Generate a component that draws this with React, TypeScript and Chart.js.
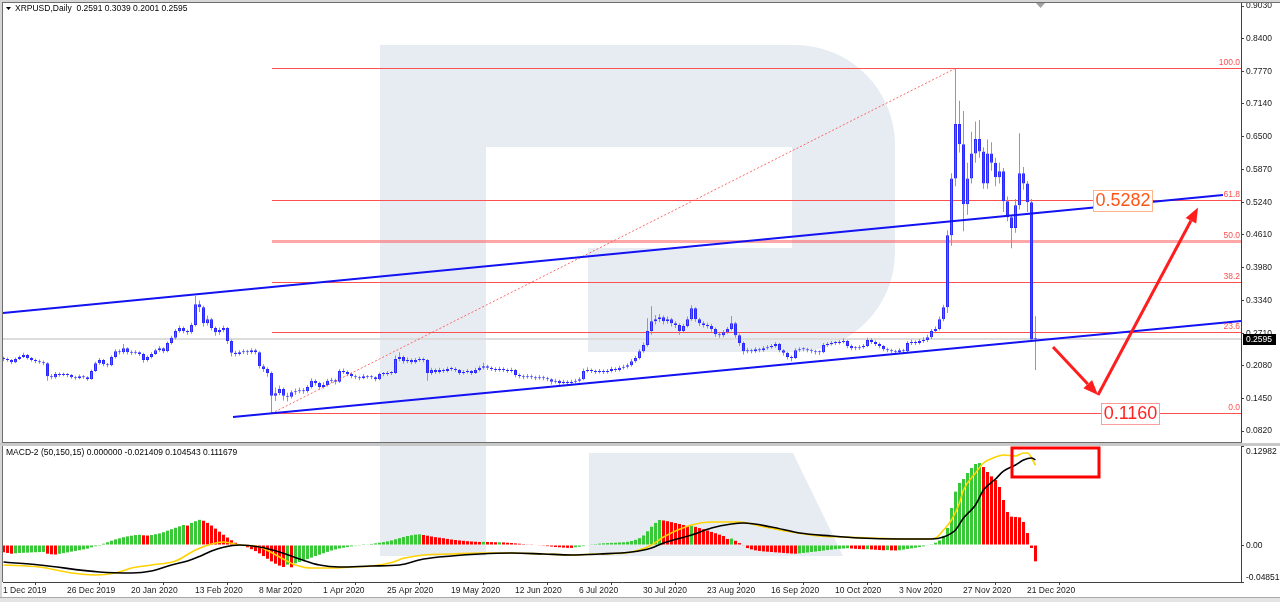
import React, { useEffect, useRef } from "react";
import { Chart, registerables } from "chart.js";

Chart.register(...registerables);

const FONT = "'Liberation Sans', Arial, Helvetica, sans-serif";
const SMALL = 8.5;
Chart.defaults.font.family = FONT;

// ---------------- texts ----------------
const symbolTitle = "XRPUSD,Daily  0.2591 0.3039 0.2001 0.2595";
const macdTitle = "MACD-2 (50,150,15) 0.000000 -0.021409 0.104543 0.111679";

// ---------------- axes ----------------
const xTickLabels = ["1 Dec 2019", "26 Dec 2019", "20 Jan 2020", "13 Feb 2020", "8 Mar 2020", "1 Apr 2020", "25 Apr 2020", "19 May 2020", "12 Jun 2020", "6 Jul 2020", "30 Jul 2020", "23 Aug 2020", "16 Sep 2020", "10 Oct 2020", "3 Nov 2020", "27 Nov 2020", "21 Dec 2020"];
const xTickBars = [0, 16, 32, 48, 64, 80, 96, 112, 128, 144, 160, 176, 192, 208, 224, 240, 256];
const priceTicks = [0.903, 0.84, 0.777, 0.714, 0.65, 0.587, 0.524, 0.461, 0.398, 0.334, 0.271, 0.208, 0.145, 0.082];
const macdTickValues = [0.12982, 0, -0.048513];
const macdTickLabels = ["0.12982", "0.00", "-0.048513"];

// ---------------- daily candles ----------------
const openP = [
  0.222, 0.221, 0.219, 0.215, 0.221, 0.225, 0.229, 0.223, 0.219, 0.217,
  0.215, 0.213, 0.188, 0.186, 0.192, 0.190, 0.192, 0.190, 0.186, 0.184,
  0.188, 0.186, 0.182, 0.198, 0.213, 0.219, 0.211, 0.209, 0.225, 0.236,
  0.234, 0.242, 0.234, 0.233, 0.234, 0.231, 0.219, 0.225, 0.231, 0.238,
  0.242, 0.236, 0.252, 0.262, 0.275, 0.281, 0.275, 0.273, 0.287, 0.327,
  0.321, 0.290, 0.298, 0.281, 0.273, 0.277, 0.281, 0.256, 0.233, 0.231,
  0.234, 0.236, 0.234, 0.238, 0.234, 0.207, 0.202, 0.194, 0.150, 0.155,
  0.163, 0.150, 0.148, 0.157, 0.159, 0.161, 0.159, 0.167, 0.179, 0.175,
  0.167, 0.171, 0.179, 0.180, 0.177, 0.198, 0.196, 0.192, 0.188, 0.186,
  0.184, 0.188, 0.186, 0.186, 0.182, 0.192, 0.192, 0.194, 0.194, 0.221,
  0.225, 0.217, 0.219, 0.215, 0.219, 0.221, 0.219, 0.194, 0.200, 0.196,
  0.200, 0.198, 0.202, 0.202, 0.200, 0.194, 0.196, 0.198, 0.194, 0.200,
  0.204, 0.207, 0.204, 0.202, 0.200, 0.202, 0.200, 0.198, 0.200, 0.190,
  0.188, 0.186, 0.188, 0.186, 0.184, 0.186, 0.184, 0.182, 0.177, 0.179,
  0.175, 0.177, 0.175, 0.177, 0.179, 0.182, 0.198, 0.200, 0.198, 0.196,
  0.198, 0.196, 0.198, 0.202, 0.200, 0.204, 0.206, 0.209, 0.217, 0.223,
  0.236, 0.248, 0.275, 0.294, 0.298, 0.302, 0.294, 0.298, 0.290, 0.287,
  0.275, 0.285, 0.298, 0.319, 0.298, 0.290, 0.287, 0.285, 0.279, 0.269,
  0.267, 0.273, 0.279, 0.290, 0.267, 0.252, 0.236, 0.238, 0.236, 0.240,
  0.238, 0.242, 0.244, 0.246, 0.250, 0.238, 0.233, 0.225, 0.223, 0.238,
  0.240, 0.240, 0.238, 0.236, 0.234, 0.234, 0.248, 0.250, 0.252, 0.252,
  0.254, 0.256, 0.246, 0.242, 0.242, 0.244, 0.246, 0.258, 0.254, 0.250,
  0.246, 0.240, 0.238, 0.236, 0.234, 0.238, 0.236, 0.252, 0.254, 0.252,
  0.256, 0.258, 0.263, 0.275, 0.279, 0.298, 0.321, 0.460, 0.570, 0.675,
  0.636, 0.520, 0.570, 0.618, 0.646, 0.622, 0.560, 0.618, 0.600, 0.572,
  0.584, 0.526, 0.495, 0.474, 0.518, 0.580, 0.560, 0.524, 0.2591,
];
const highP = [
  0.226, 0.224, 0.221, 0.224, 0.228, 0.233, 0.231, 0.225, 0.222, 0.220,
  0.218, 0.215, 0.192, 0.196, 0.195, 0.195, 0.194, 0.192, 0.189, 0.191,
  0.190, 0.188, 0.201, 0.216, 0.223, 0.221, 0.214, 0.228, 0.240, 0.240,
  0.250, 0.244, 0.238, 0.238, 0.236, 0.233, 0.228, 0.234, 0.241, 0.246,
  0.244, 0.255, 0.266, 0.279, 0.286, 0.284, 0.278, 0.291, 0.343, 0.334,
  0.324, 0.305, 0.301, 0.284, 0.282, 0.286, 0.283, 0.259, 0.237, 0.238,
  0.240, 0.239, 0.242, 0.241, 0.236, 0.211, 0.205, 0.197, 0.166, 0.170,
  0.166, 0.156, 0.161, 0.164, 0.166, 0.165, 0.171, 0.184, 0.182, 0.177,
  0.176, 0.183, 0.185, 0.183, 0.202, 0.203, 0.199, 0.195, 0.191, 0.189,
  0.192, 0.190, 0.190, 0.188, 0.195, 0.196, 0.198, 0.198, 0.228, 0.234,
  0.228, 0.224, 0.222, 0.223, 0.225, 0.224, 0.221, 0.204, 0.203, 0.204,
  0.203, 0.206, 0.206, 0.205, 0.202, 0.200, 0.202, 0.200, 0.204, 0.208,
  0.214, 0.210, 0.207, 0.205, 0.206, 0.205, 0.203, 0.204, 0.202, 0.193,
  0.191, 0.192, 0.191, 0.189, 0.190, 0.189, 0.187, 0.184, 0.183, 0.181,
  0.181, 0.180, 0.181, 0.183, 0.186, 0.203, 0.205, 0.203, 0.201, 0.202,
  0.201, 0.202, 0.206, 0.205, 0.208, 0.210, 0.213, 0.221, 0.227, 0.240,
  0.253, 0.300, 0.323, 0.306, 0.308, 0.305, 0.303, 0.301, 0.294, 0.290,
  0.289, 0.303, 0.325, 0.321, 0.301, 0.294, 0.291, 0.289, 0.282, 0.273,
  0.277, 0.283, 0.304, 0.293, 0.270, 0.255, 0.243, 0.241, 0.244, 0.243,
  0.246, 0.248, 0.250, 0.254, 0.252, 0.240, 0.235, 0.228, 0.242, 0.244,
  0.244, 0.243, 0.241, 0.239, 0.238, 0.252, 0.254, 0.256, 0.256, 0.258,
  0.261, 0.258, 0.249, 0.246, 0.248, 0.250, 0.262, 0.261, 0.257, 0.253,
  0.248, 0.243, 0.241, 0.239, 0.242, 0.241, 0.256, 0.259, 0.257, 0.260,
  0.263, 0.268, 0.279, 0.284, 0.303, 0.326, 0.470, 0.580, 0.7826, 0.720,
  0.700, 0.600, 0.660, 0.680, 0.683, 0.630, 0.645, 0.640, 0.610, 0.600,
  0.590, 0.535, 0.500, 0.530, 0.657, 0.592, 0.565, 0.530, 0.3039,
];
const lowP = [
  0.217, 0.216, 0.211, 0.213, 0.219, 0.223, 0.220, 0.216, 0.213, 0.212,
  0.209, 0.179, 0.182, 0.183, 0.187, 0.188, 0.186, 0.183, 0.181, 0.182,
  0.183, 0.179, 0.181, 0.196, 0.210, 0.207, 0.205, 0.207, 0.222, 0.230,
  0.231, 0.230, 0.229, 0.230, 0.227, 0.214, 0.216, 0.222, 0.229, 0.235,
  0.232, 0.234, 0.249, 0.259, 0.272, 0.271, 0.268, 0.270, 0.284, 0.312,
  0.284, 0.286, 0.276, 0.266, 0.268, 0.273, 0.250, 0.226, 0.226, 0.228,
  0.231, 0.229, 0.231, 0.230, 0.203, 0.196, 0.187, 0.116, 0.140, 0.151,
  0.141, 0.139, 0.145, 0.152, 0.155, 0.154, 0.156, 0.164, 0.170, 0.162,
  0.164, 0.168, 0.175, 0.172, 0.175, 0.192, 0.188, 0.184, 0.182, 0.180,
  0.182, 0.183, 0.182, 0.178, 0.180, 0.188, 0.189, 0.190, 0.192, 0.217,
  0.212, 0.213, 0.211, 0.212, 0.216, 0.215, 0.179, 0.190, 0.192, 0.193,
  0.194, 0.195, 0.198, 0.196, 0.190, 0.191, 0.193, 0.190, 0.192, 0.197,
  0.201, 0.200, 0.198, 0.196, 0.197, 0.196, 0.194, 0.195, 0.186, 0.184,
  0.182, 0.183, 0.182, 0.180, 0.181, 0.180, 0.178, 0.172, 0.174, 0.171,
  0.172, 0.171, 0.172, 0.174, 0.176, 0.180, 0.195, 0.194, 0.192, 0.193,
  0.192, 0.193, 0.195, 0.196, 0.197, 0.201, 0.203, 0.206, 0.214, 0.220,
  0.233, 0.245, 0.268, 0.288, 0.292, 0.288, 0.289, 0.284, 0.281, 0.268,
  0.272, 0.282, 0.295, 0.293, 0.285, 0.282, 0.280, 0.274, 0.264, 0.262,
  0.263, 0.270, 0.276, 0.262, 0.246, 0.230, 0.232, 0.232, 0.233, 0.234,
  0.235, 0.239, 0.241, 0.243, 0.234, 0.228, 0.220, 0.217, 0.221, 0.235,
  0.236, 0.234, 0.232, 0.230, 0.229, 0.232, 0.245, 0.247, 0.248, 0.249,
  0.251, 0.242, 0.238, 0.238, 0.239, 0.241, 0.244, 0.250, 0.246, 0.242,
  0.236, 0.234, 0.232, 0.230, 0.231, 0.232, 0.234, 0.248, 0.248, 0.249,
  0.252, 0.254, 0.260, 0.271, 0.276, 0.294, 0.310, 0.440, 0.555, 0.620,
  0.468, 0.500, 0.560, 0.600, 0.610, 0.550, 0.550, 0.585, 0.555, 0.560,
  0.505, 0.487, 0.435, 0.465, 0.510, 0.548, 0.505, 0.255, 0.2001,
];
const closeP = [
  0.221, 0.219, 0.215, 0.221, 0.225, 0.229, 0.223, 0.219, 0.217, 0.215,
  0.213, 0.188, 0.186, 0.192, 0.190, 0.192, 0.190, 0.186, 0.184, 0.188,
  0.186, 0.182, 0.198, 0.213, 0.219, 0.211, 0.209, 0.225, 0.236, 0.234,
  0.242, 0.234, 0.233, 0.234, 0.231, 0.219, 0.225, 0.231, 0.238, 0.242,
  0.236, 0.252, 0.262, 0.275, 0.281, 0.275, 0.273, 0.287, 0.327, 0.321,
  0.290, 0.298, 0.281, 0.273, 0.277, 0.281, 0.256, 0.233, 0.231, 0.234,
  0.236, 0.234, 0.238, 0.234, 0.207, 0.202, 0.194, 0.150, 0.155, 0.163,
  0.150, 0.148, 0.157, 0.159, 0.161, 0.159, 0.167, 0.179, 0.175, 0.167,
  0.171, 0.179, 0.180, 0.177, 0.198, 0.196, 0.192, 0.188, 0.186, 0.184,
  0.188, 0.186, 0.186, 0.182, 0.192, 0.192, 0.194, 0.194, 0.221, 0.225,
  0.217, 0.219, 0.215, 0.219, 0.221, 0.219, 0.194, 0.200, 0.196, 0.200,
  0.198, 0.202, 0.202, 0.200, 0.194, 0.196, 0.198, 0.194, 0.200, 0.204,
  0.207, 0.204, 0.202, 0.200, 0.202, 0.200, 0.198, 0.200, 0.190, 0.188,
  0.186, 0.188, 0.186, 0.184, 0.186, 0.184, 0.182, 0.177, 0.179, 0.175,
  0.177, 0.175, 0.177, 0.179, 0.182, 0.198, 0.200, 0.198, 0.196, 0.198,
  0.196, 0.198, 0.202, 0.200, 0.204, 0.206, 0.209, 0.217, 0.223, 0.236,
  0.248, 0.275, 0.294, 0.298, 0.302, 0.294, 0.298, 0.290, 0.287, 0.275,
  0.285, 0.298, 0.319, 0.298, 0.290, 0.287, 0.285, 0.279, 0.269, 0.267,
  0.273, 0.279, 0.290, 0.267, 0.252, 0.236, 0.238, 0.236, 0.240, 0.238,
  0.242, 0.244, 0.246, 0.250, 0.238, 0.233, 0.225, 0.223, 0.238, 0.240,
  0.240, 0.238, 0.236, 0.234, 0.234, 0.248, 0.250, 0.252, 0.252, 0.254,
  0.256, 0.246, 0.242, 0.242, 0.244, 0.246, 0.258, 0.254, 0.250, 0.246,
  0.240, 0.238, 0.236, 0.234, 0.238, 0.236, 0.252, 0.254, 0.252, 0.256,
  0.258, 0.263, 0.275, 0.279, 0.298, 0.321, 0.460, 0.570, 0.675, 0.636,
  0.520, 0.570, 0.618, 0.646, 0.622, 0.560, 0.618, 0.600, 0.572, 0.584,
  0.526, 0.495, 0.474, 0.518, 0.580, 0.560, 0.524, 0.259, 0.2595,
];

// ---------------- MACD-2 ----------------
const macdHist = [
  -0.0095, -0.0104, -0.0114, -0.0109, -0.0104, -0.0102, -0.0100, -0.0097, -0.0095, -0.0093,
  -0.0091, -0.0114, -0.0122, -0.0125, -0.0116, -0.0106, -0.0097, -0.0087, -0.0078, -0.0068,
  -0.0058, -0.0048, -0.0030, -0.0016, -0.0002, 0.0017, 0.0036, 0.0056, 0.0074, 0.0088,
  0.0102, 0.0113, 0.0122, 0.0130, 0.0134, 0.0127, 0.0124, 0.0131, 0.0141, 0.0152,
  0.0168, 0.0188, 0.0207, 0.0226, 0.0245, 0.0262, 0.0255, 0.0290, 0.0312, 0.0330,
  0.0318, 0.0290, 0.0255, 0.0215, 0.0175, 0.0135, 0.0098, 0.0062, 0.0030, 0.0008,
  -0.0010, -0.0030, -0.0055, -0.0080, -0.0110, -0.0145, -0.0180, -0.0215, -0.0245, -0.0270,
  -0.0288, -0.0258, -0.0292, -0.0240, -0.0222, -0.0203, -0.0185, -0.0165, -0.0145, -0.0127,
  -0.0108, -0.0090, -0.0072, -0.0058, -0.0045, -0.0035, -0.0026, -0.0018, -0.0010, -0.0004,
  0.0002, 0.0008, 0.0014, 0.0022, 0.0030, 0.0038, 0.0048, 0.0060, 0.0075, 0.0090,
  0.0105, 0.0118, 0.0128, 0.0136, 0.0140, 0.0131, 0.0122, 0.0112, 0.0103, 0.0096,
  0.0089, 0.0080, 0.0072, 0.0066, 0.0060, 0.0055, 0.0050, 0.0046, 0.0043, 0.0040,
  0.0042, 0.0040, 0.0038, 0.0036, 0.0037, 0.0034, 0.0030, 0.0026, 0.0021, 0.0017,
  0.0012, 0.0008, 0.0004, 0.0000, -0.0005, -0.0010, -0.0015, -0.0020, -0.0026, -0.0030,
  -0.0034, -0.0037, -0.0038, -0.0030, -0.0022, -0.0014, -0.0006, 0.0004, 0.0012, 0.0018,
  0.0022, 0.0025, 0.0028, 0.0030, 0.0033, 0.0036, 0.0042, 0.0052, 0.0068, 0.0090,
  0.0125, 0.0180, 0.0240, 0.0290, 0.0328, 0.0322, 0.0312, 0.0300, 0.0288, 0.0276,
  0.0262, 0.0248, 0.0252, 0.0238, 0.0222, 0.0206, 0.0190, 0.0172, 0.0154, 0.0136,
  0.0118, 0.0080, 0.0084, 0.0055, 0.0025, -0.0008, -0.0040, -0.0058, -0.0070, -0.0078,
  -0.0084, -0.0088, -0.0092, -0.0096, -0.0100, -0.0104, -0.0108, -0.0112, -0.0114, -0.0110,
  -0.0104, -0.0098, -0.0092, -0.0086, -0.0080, -0.0073, -0.0066, -0.0060, -0.0055, -0.0050,
  -0.0046, -0.0042, -0.0046, -0.0050, -0.0053, -0.0056, -0.0054, -0.0058, -0.0062, -0.0066,
  -0.0069, -0.0066, -0.0070, -0.0072, -0.0068, -0.0060, -0.0052, -0.0044, -0.0036, -0.0027,
  -0.0018, -0.0008, 0.0010, 0.0030, 0.0060, 0.0120, 0.0223, 0.0485, 0.0700, 0.0813,
  0.0865, 0.0944, 0.1010, 0.1062, 0.1075, 0.1023, 0.0957, 0.0900, 0.0852, 0.0761,
  0.0590, 0.0433, 0.0372, 0.0368, 0.0362, 0.0302, 0.0157, -0.0039, -0.0214,
];
// [bar, value] points read along the black and the yellow curve
const macdBlackPts = [
  [0, -0.0223], [9, -0.0262], [24, -0.0354], [32, -0.0367], [37, -0.0341], [42, -0.0262],
  [46, -0.021], [49, -0.015], [52, -0.008], [55, -0.003], [59, 0.0], [64, -0.0026],
  [69, -0.0092], [74, -0.0184], [79, -0.0262], [84, -0.0288], [92, -0.0275], [99, -0.0262],
  [105, -0.0184], [112, -0.0144], [119, -0.0118], [127, -0.0105], [135, -0.0118], [142, -0.0131],
  [149, -0.0118], [157, -0.0092], [162, -0.0039], [165, 0.0026], [172, 0.0131], [177, 0.0223],
  [182, 0.0275], [185, 0.0288], [192, 0.0236], [199, 0.0157], [207, 0.0118], [214, 0.0092],
  [224, 0.0079], [232, 0.0079], [235, 0.0105], [238, 0.0197], [240, 0.0354], [243, 0.0525],
  [245, 0.0721], [248, 0.0865], [250, 0.097], [253, 0.1049], [255, 0.1115], [257, 0.1141],
  [258, 0.1117],
];
const macdYellowPts = [
  [0, -0.0262], [9, -0.0288], [17, -0.0367], [23, -0.0393], [28, -0.0367], [32, -0.0302],
  [37, -0.0262], [43, -0.021], [48, -0.0066], [52, 0.0013], [55, 0.0039], [59, 0.0],
  [64, -0.0026], [69, -0.0157], [73, -0.0262], [77, -0.0302], [82, -0.0302], [87, -0.0288],
  [92, -0.0275], [97, -0.023], [100, -0.0175], [105, -0.0131], [112, -0.0118], [119, -0.0105],
  [127, -0.0105], [135, -0.0118], [142, -0.0131], [149, -0.0118], [157, -0.0092], [162, 0.0],
  [165, 0.0105], [172, 0.0262], [177, 0.0302], [184, 0.0302], [189, 0.0249], [197, 0.017],
  [204, 0.0118], [209, 0.0105], [217, 0.0092], [224, 0.0079], [230, 0.0079], [233, 0.0092],
  [235, 0.0197], [237, 0.0328], [239, 0.0551], [240, 0.0721], [243, 0.0944], [245, 0.1075],
  [248, 0.1154], [250, 0.118], [253, 0.1167], [255, 0.1206], [256, 0.1206], [258, 0.1045],
];

// ---------------- drawn analysis objects (bar index, price) ----------------
const lastPrice = 0.2595;
const fibLow = 0.116;
const fibHigh = 0.7826;
const fibStartBar = 67;
const fibEndBar = 238;
const fibRatios = [0, 23.6, 38.2, 50, 61.8, 100];
const channelUpper = [[-0.125, 0.31], [304.875, 0.5379]];
const channelLower = [[57.375, 0.1091], [309.375, 0.2945]];
const arrowDown = [[262.375, 0.2443], [273.625, 0.1516]];
const arrowUp = [[273.625, 0.1516], [298.625, 0.5138]];
const targetHigh = { bar: 279.625, price: 0.5282, text: "0.5282" };
const targetLow = { bar: 281.625, price: 0.116, text: "0.1160" };
const macdBox = [[252.125, 0.1272], [273.875, 0.0892]];

// ---------------- scale ranges ----------------
const X_MIN = -0.125;
const X_MAX = 309.375;
const P_MIN = 0.0608;
const P_MAX = 0.9088;
const M_MIN = -0.048513;
const M_MAX = 0.12982;

const BULL = "#1fa34a";
const BEAR = "#d21f3c";
const BODY_EDGE = "#2a2aff";
const WICK = "#8a8cff";
const H_GREEN = "#38c838";
const H_RED = "#ff0000";
const LOGO = "#e7ecf3";

function drawLogo(ctx: CanvasRenderingContext2D, dy: number) {
  ctx.fillStyle = LOGO;
  ctx.fillRect(380, 45 - dy, 106, 511);
  ctx.beginPath();
  ctx.moveTo(486, 45 - dy);
  ctx.lineTo(795, 45 - dy);
  ctx.arcTo(895, 45 - dy, 895, 145 - dy, 100);
  ctx.lineTo(895, 252 - dy);
  ctx.arcTo(895, 352 - dy, 795, 352 - dy, 100);
  ctx.lineTo(588, 352 - dy);
  ctx.lineTo(588, 248 - dy);
  ctx.lineTo(792, 248 - dy);
  ctx.lineTo(792, 147 - dy);
  ctx.lineTo(486, 147 - dy);
  ctx.closePath();
  ctx.fill();
  ctx.beginPath();
  ctx.moveTo(589, 453 - dy);
  ctx.lineTo(793, 453 - dy);
  ctx.lineTo(843, 556 - dy);
  ctx.lineTo(589, 556 - dy);
  ctx.closePath();
  ctx.fill();
}

function drawArrow(ctx: CanvasRenderingContext2D, x1: number, y1: number, x2: number, y2: number, color: string) {
  const ang = Math.atan2(y2 - y1, x2 - x1);
  const head = 15;
  const half = 6;
  const bx = x2 - head * Math.cos(ang);
  const by = y2 - head * Math.sin(ang);
  ctx.strokeStyle = color;
  ctx.lineWidth = 3;
  ctx.beginPath();
  ctx.moveTo(x1, y1);
  ctx.lineTo(bx, by);
  ctx.stroke();
  ctx.fillStyle = color;
  ctx.beginPath();
  ctx.moveTo(x2, y2);
  ctx.lineTo(bx + half * Math.sin(ang), by - half * Math.cos(ang));
  ctx.lineTo(bx - half * Math.sin(ang), by + half * Math.cos(ang));
  ctx.closePath();
  ctx.fill();
}

function valueBox(ctx: CanvasRenderingContext2D, cx: number, cy: number, text: string, color: string, edge: string) {
  ctx.font = `18px ${FONT}`;
  const w = Math.round(ctx.measureText(text).width + 4);
  const h = 21;
  const left = Math.round(cx - w / 2);
  const top = Math.round(cy - h / 2);
  ctx.fillStyle = "#ffffff";
  ctx.fillRect(left, top, w, h);
  ctx.strokeStyle = edge;
  ctx.lineWidth = 1;
  ctx.strokeRect(left + 0.5, top + 0.5, w, h);
  ctx.fillStyle = color;
  ctx.textAlign = "center";
  ctx.textBaseline = "middle";
  ctx.fillText(text, left + w / 2 + 0.5, top + h / 2 + 1);
}

const mainDecor = {
  id: "mainDecor",
  beforeDatasetsDraw(chart: any) {
    const { ctx, chartArea: a, scales } = chart;
    const xs = scales.x;
    const ys = scales.y;
    ctx.save();
    ctx.beginPath();
    ctx.rect(a.left, a.top, a.right - a.left, a.bottom - a.top);
    ctx.clip();
    drawLogo(ctx, 0);
    const by = Math.round(ys.getPixelForValue(lastPrice));
    ctx.fillStyle = "#dcdcdc";
    ctx.fillRect(a.left, by - 1, a.right - a.left, 2);
    const x0 = Math.round(xs.getPixelForValue(fibStartBar));
    fibRatios.forEach((r) => {
      const v = fibLow + ((fibHigh - fibLow) * r) / 100;
      const yy = Math.round(ys.getPixelForValue(v));
      if (r === 50) {
        ctx.fillStyle = "rgba(255,95,95,0.55)";
        ctx.fillRect(x0, yy - 1, a.right - x0, 3);
      } else {
        ctx.fillStyle = "#ff5050";
        ctx.fillRect(x0, yy, a.right - x0, 1);
      }
    });
    ctx.restore();
  },
  afterDatasetsDraw(chart: any) {
    const { ctx, chartArea: a, scales } = chart;
    const xs = scales.x;
    const ys = scales.y;
    const P = (b: number, p: number) => [xs.getPixelForValue(b), ys.getPixelForValue(p)];
    ctx.save();
    ctx.beginPath();
    ctx.rect(a.left, a.top, a.right - a.left, a.bottom - a.top);
    ctx.clip();
    // fibo trend line (dotted)
    const [fx1, fy1] = P(fibStartBar, fibLow);
    const [fx2, fy2] = P(fibEndBar, fibHigh);
    ctx.strokeStyle = "rgba(255,80,80,0.85)";
    ctx.lineWidth = 1;
    ctx.setLineDash([2, 2]);
    ctx.beginPath();
    ctx.moveTo(fx1, fy1);
    ctx.lineTo(fx2, fy2);
    ctx.stroke();
    ctx.setLineDash([]);
    // channel
    ctx.strokeStyle = "#1212f2";
    ctx.lineWidth = 2;
    [channelUpper, channelLower].forEach((ln) => {
      const [ax, ay] = P(ln[0][0], ln[0][1]);
      const [bx, by] = P(ln[1][0], ln[1][1]);
      ctx.beginPath();
      ctx.moveTo(ax, ay);
      ctx.lineTo(bx, by);
      ctx.stroke();
    });
    // fib labels
    ctx.font = `${SMALL}px ${FONT}`;
    ctx.fillStyle = "#ff5050";
    ctx.textAlign = "right";
    ctx.textBaseline = "bottom";
    fibRatios.forEach((r) => {
      const v = fibLow + ((fibHigh - fibLow) * r) / 100;
      const yy = Math.round(ys.getPixelForValue(v));
      ctx.fillText(r.toFixed(1), a.right - 1, yy - 1);
    });
    // arrows
    const [d1x, d1y] = P(arrowDown[0][0], arrowDown[0][1]);
    const [d2x, d2y] = P(arrowDown[1][0], arrowDown[1][1]);
    const [u1x, u1y] = P(arrowUp[0][0], arrowUp[0][1]);
    const [u2x, u2y] = P(arrowUp[1][0], arrowUp[1][1]);
    drawArrow(ctx, d1x, d1y, d2x, d2y, "#ff1e1e");
    drawArrow(ctx, u1x, u1y, u2x, u2y, "#ff1e1e");
    // target boxes
    const [hx, hy] = P(targetHigh.bar, targetHigh.price);
    valueBox(ctx, hx, hy, targetHigh.text, "#ff5519", "#ffb48c");
    const [lx, ly] = P(targetLow.bar, targetLow.price);
    valueBox(ctx, lx, ly, targetLow.text, "#ff2323", "#ff9c9c");
    ctx.restore();
  },
  afterDraw(chart: any) {
    const { ctx, chartArea: a, scales } = chart;
    const ys = scales.y;
    ctx.save();
    // window frame
    ctx.fillStyle = "#d6d6d6";
    ctx.fillRect(0, 0, 1280, 2);
    ctx.fillRect(0, 0, 2, 445);
    ctx.fillStyle = "#6e6e6e";
    ctx.fillRect(2, 2, 1278, 1);
    ctx.fillRect(2, 2, 1, 441);
    ctx.fillRect(2, a.bottom, a.right - 1, 1);
    ctx.fillStyle = "#c8c8c8";
    ctx.fillRect(0, a.bottom + 1, 1280, 2);
    // chart shift marker
    ctx.fillStyle = "#a0a0a0";
    ctx.beginPath();
    ctx.moveTo(1036, 3);
    ctx.lineTo(1045, 3);
    ctx.lineTo(1040.5, 8);
    ctx.closePath();
    ctx.fill();
    // title
    ctx.fillStyle = "#000";
    ctx.beginPath();
    ctx.moveTo(6, 7);
    ctx.lineTo(11, 7);
    ctx.lineTo(8.5, 10);
    ctx.closePath();
    ctx.fill();
    ctx.font = `${SMALL}px ${FONT}`;
    ctx.textAlign = "left";
    ctx.textBaseline = "middle";
    ctx.fillText(symbolTitle, 15, 9);
    // last price label on the axis
    const py = Math.round(ys.getPixelForValue(lastPrice));
    ctx.fillStyle = "#000";
    ctx.fillRect(a.right + 2, py - 5, 33, 11);
    ctx.fillStyle = "#fff";
    ctx.fillText(lastPrice.toFixed(4), a.right + 5, py + 0.5);
    ctx.restore();
  },
};

const macdDecor = {
  id: "macdDecor",
  beforeDatasetsDraw(chart: any) {
    const { ctx, chartArea: a } = chart;
    ctx.save();
    ctx.beginPath();
    ctx.rect(a.left, a.top, a.right - a.left, a.bottom - a.top);
    ctx.clip();
    drawLogo(ctx, 445);
    ctx.restore();
  },
  afterDatasetsDraw(chart: any) {
    const { ctx, scales } = chart;
    const xs = scales.x;
    const ys = scales.y;
    const x1 = xs.getPixelForValue(macdBox[0][0]);
    const y1 = ys.getPixelForValue(macdBox[0][1]);
    const x2 = xs.getPixelForValue(macdBox[1][0]);
    const y2 = ys.getPixelForValue(macdBox[1][1]);
    ctx.save();
    ctx.strokeStyle = "#ff0000";
    ctx.lineWidth = 3;
    ctx.strokeRect(x1, y1, x2 - x1, y2 - y1);
    ctx.restore();
  },
  afterDraw(chart: any) {
    const { ctx, chartArea: a, scales } = chart;
    const ys = scales.y;
    ctx.save();
    ctx.fillStyle = "#c8c8c8";
    ctx.fillRect(0, 0, 1280, 1);
    ctx.fillStyle = "#d6d6d6";
    ctx.fillRect(0, 0, 2, 157);
    ctx.fillStyle = "#6e6e6e";
    ctx.fillRect(2, 1, 1, a.bottom - 1);
    // bottom tab strip
    ctx.fillStyle = "#e4e4e4";
    ctx.fillRect(0, 152, 1280, 5);
    ctx.fillStyle = "#a8a8a8";
    ctx.fillRect(0, 152, 1280, 1);
    // title
    ctx.fillStyle = "#000";
    ctx.font = `${SMALL}px ${FONT}`;
    ctx.textAlign = "left";
    ctx.textBaseline = "middle";
    ctx.fillText(macdTitle, 6, 8);
    // axis labels (top one hangs below the top edge, bottom one sits above the bottom edge)
    ctx.fillStyle = "#111";
    macdTickValues.forEach((v, i) => {
      const yy = ys.getPixelForValue(v);
      if (i === 0) {
        ctx.textBaseline = "top";
        ctx.fillText(macdTickLabels[i], a.right + 5, yy + 1);
      } else if (i === macdTickValues.length - 1) {
        ctx.textBaseline = "bottom";
        ctx.fillText(macdTickLabels[i], a.right + 5, yy);
      } else {
        ctx.textBaseline = "middle";
        ctx.fillText(macdTickLabels[i], a.right + 5, yy + 0.5);
      }
    });
    ctx.restore();
  },
};

export default function App() {
  const mainRef = useRef<HTMLCanvasElement>(null);
  const macdRef = useRef<HTMLCanvasElement>(null);

  useEffect(() => {
    const bodyData = openP.map((o, i) => ({ x: i, y: [o, closeP[i]] }));
    const wickData = highP.map((h, i) => ({ x: i, y: [lowP[i], h] }));
    const bodyColors = openP.map((o, i) => (closeP[i] >= o ? BULL : BEAR));
    const histData = macdHist.map((v, i) => ({ x: i, y: v }));
    const histColors = macdHist.map((v, i) => (i > 0 && v >= macdHist[i - 1] ? H_GREEN : H_RED));

    const axisFont = { family: FONT, size: SMALL };

    const mainChart = new Chart(mainRef.current as HTMLCanvasElement, {
      type: "bar",
      data: {
        datasets: [
          {
            label: "body",
            data: bodyData as any,
            grouped: false,
            barThickness: 3,
            backgroundColor: bodyColors,
            borderColor: BODY_EDGE,
            borderWidth: 1,
            borderSkipped: false,
            minBarLength: 1,
            inflateAmount: 0,
            order: 0,
          } as any,
          {
            label: "wick",
            data: wickData as any,
            grouped: false,
            barThickness: 1,
            backgroundColor: WICK,
            borderWidth: 0,
            inflateAmount: 0,
            order: 1,
          } as any,
        ],
      },
      options: {
        responsive: false,
        animation: false,
        events: [],
        layout: { padding: { left: 3, right: 0, top: 3, bottom: 3 }, autoPadding: false } as any,
        plugins: { legend: { display: false }, tooltip: { enabled: false } },
        scales: {
          x: { type: "linear", min: X_MIN, max: X_MAX, bounds: "data", offset: false, display: false } as any,
          y: {
            type: "linear",
            position: "right",
            min: P_MIN,
            max: P_MAX,
            bounds: "data",
            afterBuildTicks: (s: any) => {
              s.ticks = priceTicks.map((v) => ({ value: v }));
            },
            afterFit: (s: any) => {
              s.width = 39;
              s.paddingTop = 0;
              s.paddingBottom = 0;
            },
            ticks: {
              autoSkip: false,
              padding: 2,
              color: "#1a1a1a",
              font: axisFont,
              callback: (v: any) => Number(v).toFixed(4),
            },
            grid: { drawOnChartArea: false, drawTicks: true, tickLength: 3, color: "#404040" },
            border: { display: true, color: "#404040", width: 1 },
          } as any,
        },
      },
      plugins: [mainDecor],
    });

    const macdChart = new Chart(macdRef.current as HTMLCanvasElement, {
      type: "bar",
      data: {
        datasets: [
          {
            type: "line",
            label: "signal",
            data: macdBlackPts.map(([b, v]) => ({ x: b, y: v })) as any,
            borderColor: "#000000",
            borderWidth: 1.6,
            pointRadius: 0,
            cubicInterpolationMode: "monotone",
            order: 0,
          } as any,
          {
            type: "line",
            label: "main",
            data: macdYellowPts.map(([b, v]) => ({ x: b, y: v })) as any,
            borderColor: "#ffd200",
            borderWidth: 1.6,
            pointRadius: 0,
            cubicInterpolationMode: "monotone",
            order: 1,
          } as any,
          {
            type: "bar",
            label: "hist",
            data: histData as any,
            grouped: false,
            barThickness: 3,
            backgroundColor: histColors,
            borderWidth: 0,
            inflateAmount: 0,
            order: 2,
          } as any,
        ],
      },
      options: {
        responsive: false,
        animation: false,
        events: [],
        layout: { padding: { left: 3, right: 0, top: 1, bottom: 0 }, autoPadding: false } as any,
        plugins: { legend: { display: false }, tooltip: { enabled: false } },
        scales: {
          x: {
            type: "linear",
            position: "bottom",
            min: X_MIN,
            max: X_MAX,
            bounds: "data",
            offset: false,
            afterBuildTicks: (s: any) => {
              s.ticks = xTickBars.map((b) => ({ value: b - 0.125 }));
            },
            afterFit: (s: any) => {
              s.height = 20;
              s.paddingLeft = 0;
              s.paddingRight = 0;
            },
            ticks: {
              autoSkip: false,
              maxRotation: 0,
              minRotation: 0,
              align: "start",
              padding: 1,
              color: "#1a1a1a",
              font: axisFont,
              callback: (_v: any, idx: number) => xTickLabels[idx],
            },
            grid: { drawOnChartArea: false, drawTicks: true, tickLength: 3, color: "#404040" },
            border: { display: true, color: "#404040", width: 1 },
          } as any,
          y: {
            type: "linear",
            position: "right",
            min: M_MIN,
            max: M_MAX,
            bounds: "data",
            afterBuildTicks: (s: any) => {
              s.ticks = macdTickValues.map((v) => ({ value: v }));
            },
            afterFit: (s: any) => {
              s.width = 39;
              s.paddingTop = 0;
              s.paddingBottom = 0;
            },
            ticks: { display: false },
            grid: { drawOnChartArea: false, drawTicks: true, tickLength: 3, color: "#404040" },
            border: { display: true, color: "#404040", width: 1 },
          } as any,
        },
      },
      plugins: [macdDecor],
    });

    return () => {
      mainChart.destroy();
      macdChart.destroy();
    };
  }, []);

  return (
    <div style={{ position: "fixed", left: 0, top: 0, width: 1280, height: 602, background: "#ffffff", overflow: "hidden" }}>
      <canvas ref={mainRef} width={1280} height={445} style={{ position: "absolute", left: 0, top: 0, display: "block" }} />
      <canvas ref={macdRef} width={1280} height={157} style={{ position: "absolute", left: 0, top: 445, display: "block" }} />
    </div>
  );
}
